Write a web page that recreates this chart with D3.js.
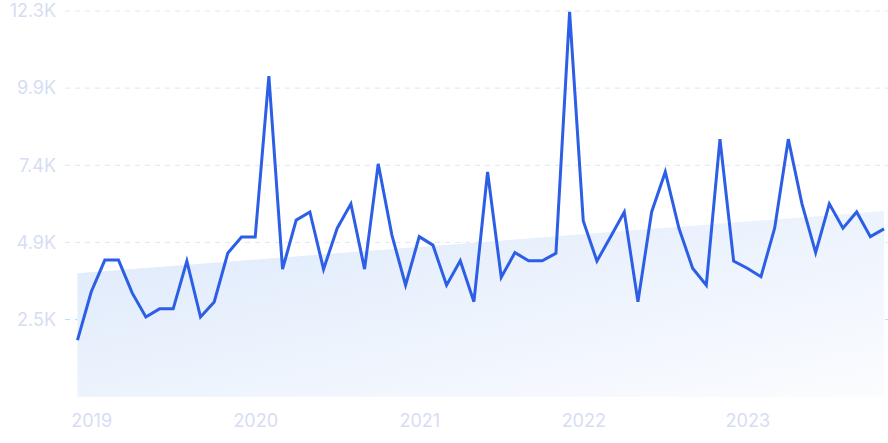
<!DOCTYPE html>
<html>
<head>
<meta charset="utf-8">
<script src="https://cdn.jsdelivr.net/npm/d3@7"></script>
<style>
  html, body { margin: 0; padding: 0; background: #ffffff; }
  svg { display: block; font-family: Inter, "Noto Sans", sans-serif; }
</style>
</head>
<body>
<svg id="chart" width="888" height="443"></svg>
<script>
// ---- data ----
const months = ["2018-12","2019-01","2019-02","2019-03","2019-04","2019-05","2019-06","2019-07","2019-08","2019-09","2019-10","2019-11",
  "2019-12","2020-01","2020-02","2020-03","2020-04","2020-05","2020-06","2020-07","2020-08","2020-09","2020-10","2020-11",
  "2020-12","2021-01","2021-02","2021-03","2021-04","2021-05","2021-06","2021-07","2021-08","2021-09","2021-10","2021-11",
  "2021-12","2022-01","2022-02","2022-03","2022-04","2022-05","2022-06","2022-07","2022-08","2022-09","2022-10","2022-11",
  "2022-12","2023-01","2023-02","2023-03","2023-04","2023-05","2023-06","2023-07","2023-08","2023-09","2023-10","2023-11"];
const values = [1810,3350,4370,4370,3320,2550,2810,2810,4340,2550,3030,4600,
  5110,5110,10260,4080,5650,5910,4080,5390,6170,4080,7450,5170,
  3570,5120,4850,3570,4350,3040,7190,3820,4610,4350,4350,4590,
  12310,5620,4340,5120,5910,3040,5910,7190,5390,4110,3570,8240,
  4340,4110,3840,5390,8240,6170,4610,6170,5390,5910,5120,5370];
const trendValues = [3950, 5940];           // start / end of trend band
const yTickValues = [2468, 4936, 7404, 9872, 12340];
const yTickLabels = ["2.5K", "4.9K", "7.4K", "9.9K", "12.3K"];
const xTickMonths = ["2019-01","2020-01","2021-01","2022-01","2023-01"];
const xTickLabels = ["2019","2020","2021","2022","2023"];

(function () {
// ---- layout ----
const svg = d3.select("#chart");
const W = 888, H = 443;
const mLeft = 77.5, mRight = 884, mTop = 11, mBottom = 396.7;

const x = d3.scalePoint().domain(months).range([mLeft, mRight]);
const y = d3.scaleLinear().domain([0, 12340]).range([mBottom, mTop]);

// gradient
const defs = svg.append("defs");
const grad = defs.append("linearGradient").attr("id", "areaGrad")
  .attr("x1", "0%").attr("y1", "0%").attr("x2", "100%").attr("y2", "100%");
grad.append("stop").attr("offset", "0%").attr("stop-color", "#dce8fb");
grad.append("stop").attr("offset", "55%").attr("stop-color", "#eef4fd");
grad.append("stop").attr("offset", "100%").attr("stop-color", "#fbfcff");

// y axis labels
const yAxis = d3.axisLeft(y).tickValues(yTickValues)
  .tickFormat((d, i) => yTickLabels[i]).tickSize(0).tickPadding(0);
const gy = svg.append("g").attr("transform", "translate(56,0)").call(yAxis);
gy.select(".domain").remove();
gy.selectAll("text").attr("x", 0).attr("fill", "#d6ddf4")
  .style("font-size", "18px").style("font-family", "Inter, sans-serif");

// grid
svg.append("g").selectAll("line").data(yTickValues).join("line")
  .attr("x1", 65).attr("x2", W)
  .attr("y1", d => y(d)).attr("y2", d => y(d))
  .attr("stroke", (d, i) => i === 0 ? "#a9e2fb" : "#dfe6f8")
  .attr("stroke-width", 1)
  .attr("stroke-dasharray", "5,5");

// trend area
const trendData = [
  { m: months[0], v: trendValues[0] },
  { m: months[months.length - 1], v: trendValues[1] }
];
svg.append("path").datum(trendData)
  .attr("fill", "url(#areaGrad)")
  .attr("d", d3.area().x(d => x(d.m)).y0(mBottom).y1(d => y(d.v)));

// x axis
const xAxis = d3.axisBottom(x).tickValues(xTickMonths)
  .tickFormat((d, i) => xTickLabels[i]).tickSize(0).tickPadding(0);
const gx = svg.append("g").attr("transform", "translate(0,427)").call(xAxis);
gx.select(".domain").remove();
gx.selectAll("text").attr("y", 0).attr("dy", "0").attr("fill", "#d6ddf4")
  .style("font-size", "18px").style("font-family", "Inter, sans-serif");

// line
svg.append("path").datum(values.map((v, i) => ({ m: months[i], v })))
  .attr("fill", "none")
  .attr("stroke", "#2c5ee6")
  .attr("stroke-width", 3)
  .attr("stroke-linejoin", "miter")
  .attr("d", d3.line().x(d => x(d.m)).y(d => y(d.v)));
})();
</script>
</body>
</html>
